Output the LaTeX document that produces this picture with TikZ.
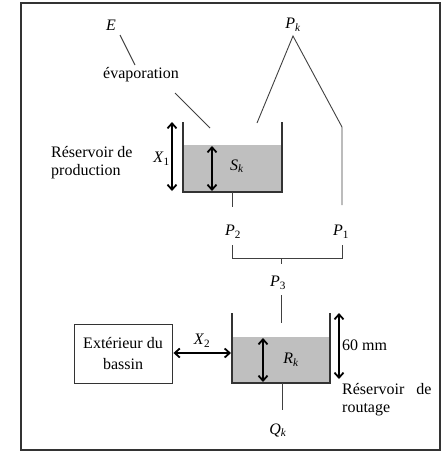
\documentclass[tikz,border=0pt]{standalone}
\usepackage{fontspec}
\setmainfont{Liberation Serif}
\usetikzlibrary{arrows.meta}
\newcommand\vsub[2]{\textit{#1}\textsubscript{#2}}
\begin{document}
\begin{tikzpicture}[x=1pt,y=-1pt,
  lbl/.style={inner sep=0pt,font=\fontsize{16}{18}\selectfont},
  thin line/.style={draw=black!75,line width=0.9pt},
  wall/.style={draw=black!80,line width=1.3pt},
  dbl/.style={line width=1.8pt,{Straight Barb[length=5pt,width=9pt]}-{Straight Barb[length=5pt,width=9pt]}},
  water/.style={fill=black!25,draw=none}]
\useasboundingbox (0,0) rectangle (442,453);
\draw[draw=black!80,line width=1.4pt] (21,3) rectangle (440,450);
% labels top
\node[lbl] (E) at (111,25) {\textit{E}};
\node[lbl] (evap) at (141,75) {évaporation};
\node[lbl] (Pk) at (293,25) {\vsub{P}{\textit{k}}};
\coordinate (Ea) at (120,35); \coordinate (Eb) at (135,65);
\coordinate (evA) at (175,93); \coordinate (evB) at (210,128);
\coordinate (apex) at (293,36);
\coordinate (pkL) at (257,123);
\coordinate (pkR) at (342,127);
\coordinate (p1top) at (342,205);
\draw[thin line] (Ea) -- (Eb);
\draw[thin line] (evA) -- (evB);
\draw[thin line] (pkL) -- (apex) -- (pkR) -- (p1top);
% tank 1
\fill[water] (183,145) rectangle (282,192);
\draw[wall] (183,122) -- (183,192) -- (282,192) -- (282,122);
\coordinate (x1t) at (172,122); \coordinate (x1b) at (172,191);
\draw[dbl] (x1t) -- (x1b);
\node[lbl,anchor=east] (X1) at (170,159) {\vsub{X}{1}};
\coordinate (skt) at (212,146); \coordinate (skb) at (212,191);
\draw[dbl] (skt) -- (skb);
\node[lbl] (Sk) at (237,166) {\vsub{S}{\textit{k}}};
\node[lbl,anchor=west,align=left] (resP) at (51,163) {Réservoir de\\production};
% P2 P1
\coordinate (t1out) at (232,192); \coordinate (t1outb) at (232,207);
\draw[thin line] (t1out) -- (t1outb);
\node[lbl] (P2) at (233,232) {\vsub{P}{2}};
\node[lbl] (P1) at (341,232) {\vsub{P}{1}};
\coordinate (bl) at (232,245); \coordinate (br) at (342,245);
\coordinate (bl2) at (232,258); \coordinate (br2) at (342,258);
\coordinate (bm) at (281,258); \coordinate (bm2) at (281,264);
\draw[thin line] (bl) -- (bl2) -- (br2) -- (br);
\draw[thin line] (bm) -- (bm2);
\node[lbl] (P3) at (278,283) {\vsub{P}{3}};
\coordinate (p3a) at (281,295); \coordinate (p3b) at (281,323);
\draw[thin line] (p3a) -- (p3b);
% tank 2
\fill[water] (232,337) rectangle (330,383);
\draw[wall] (232,313) -- (232,383) -- (330,383) -- (330,313);
\coordinate (rkt) at (263,338); \coordinate (rkb) at (263,382);
\draw[dbl] (rkt) -- (rkb);
\node[lbl] (Rk) at (291,360) {\vsub{R}{\textit{k}}};
\coordinate (qa) at (282,383); \coordinate (qb) at (282,410);
\draw[thin line] (qa) -- (qb);
\node[lbl] (Qk) at (278,430) {\vsub{Q}{\textit{k}}};
\coordinate (mt) at (339,313); \coordinate (mb) at (339,379);
\draw[dbl] (mt) -- (mb);
\node[lbl,anchor=west] (mm) at (342,345) {60 mm};
\node[lbl,anchor=west,align=left] (resR) at (342,400) {Réservoir~~~de\\routage};
% exterior box
\node[draw=black!80,line width=0.9pt,minimum width=98pt,minimum height=59pt,inner sep=0pt,align=center,font=\fontsize{16}{21}\selectfont] (ext) at (123,353.5) {Extérieur du\\bassin};
\coordinate (tankL) at (231,353);
\draw[dbl] (ext.east |- tankL) ++(1,0) -- (tankL);
\node[lbl] (X2) at (202,341) {\vsub{X}{2}};
\end{tikzpicture}
\end{document}
